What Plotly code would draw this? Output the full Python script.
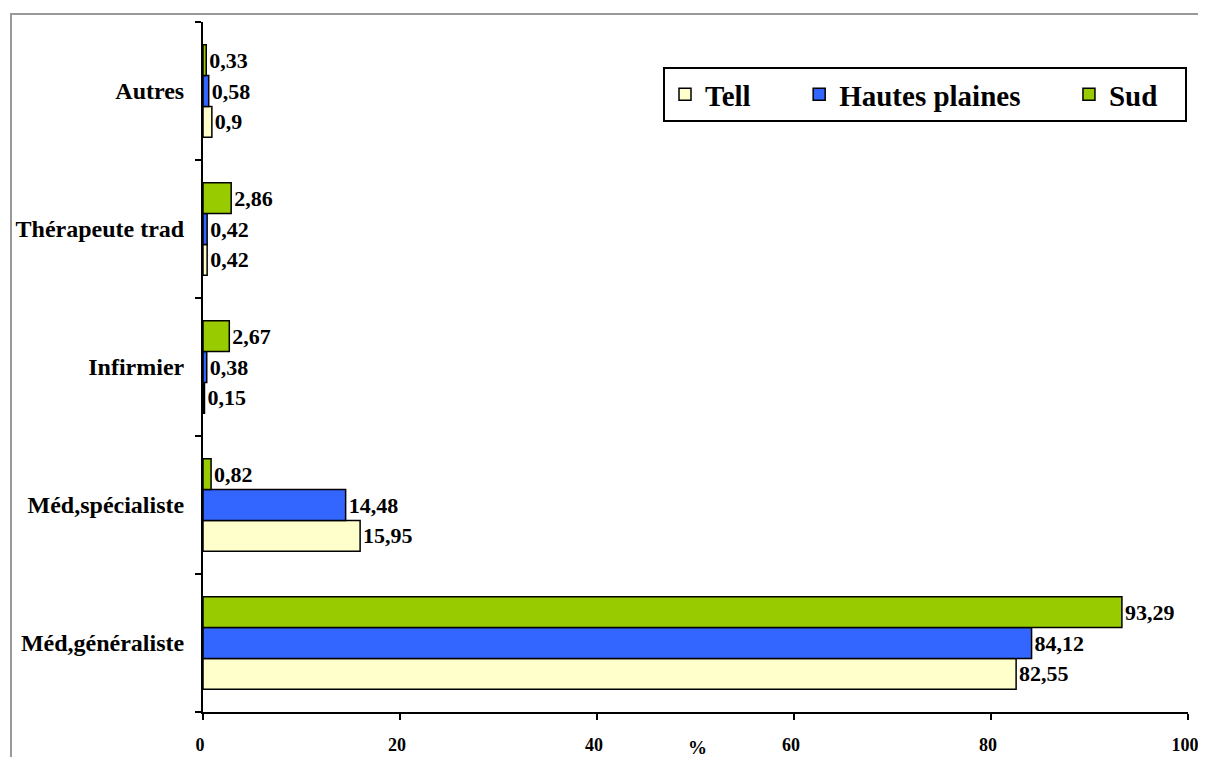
import plotly.graph_objects as go

categories = ["Méd,généraliste", "Méd,spécialiste", "Infirmier", "Thérapeute trad", "Autres"]
tell = [82.55, 15.95, 0.15, 0.42, 0.9]
hautes_plaines = [84.12, 14.48, 0.38, 0.42, 0.58]
sud = [93.29, 0.82, 2.67, 2.86, 0.33]
series_names = ["Tell", "Hautes plaines", "Sud"]
colors = ["#FFFFCC", "#3366FF", "#99CC00"]
x_ticks = [0, 20, 40, 60, 80, 100]

SERIF = "Liberation Serif, Times New Roman, serif"


def fmt(v):
    return str(v).replace(".", ",")


NB = "\u00a0"
pads = {"Tell": NB * 6, "Hautes plaines": NB * 6, "Sud": NB * 3}

fig = go.Figure()
for name, vals, col in zip(series_names, [tell, hautes_plaines, sud], colors):
    fig.add_trace(go.Bar(
        y=categories, x=vals, orientation="h", name=name + pads[name],
        marker=dict(color=col, line=dict(color="black", width=1.5)),
        text=[fmt(v) for v in vals], textposition="outside",
        textfont=dict(family=SERIF, size=22, color="black", weight="bold"),
        cliponaxis=False,
    ))

# page offset (body margin) of 8px
OFF = 8
W, H = 1190, 749
l, r, t, b = 203 - OFF, 10, 22 - OFF, 45
pw, ph = W - l - r, H - t - b


def px2x(px):
    return (px - OFF - l) / pw


def py2y(py):
    return 1 - (py - OFF - t) / ph


fig.update_layout(
    width=W, height=H,
    margin=dict(l=l, r=r, t=t, b=b, autoexpand=False),
    paper_bgcolor="white", plot_bgcolor="white",
    barmode="group", bargap=0.33, bargroupgap=0,
    showlegend=True,
    legend=dict(
        orientation="h", x=px2x(663), xanchor="left", y=py2y(67), yanchor="top",
        bordercolor="black", borderwidth=2, bgcolor="white",
        font=dict(family=SERIF, size=29, color="black", weight="bold"),
        traceorder="normal",
    ),
    xaxis=dict(
        range=[0, 100], tickvals=x_ticks, ticktext=[str(v) for v in x_ticks],
        showgrid=False, zeroline=False, automargin=False,
        showline=True, linecolor="black", linewidth=2,
        ticks="outside", ticklen=6, tickwidth=1.5, tickcolor="black",
        ticklabelstandoff=9, ticklabelshift=-3, ticklabeloverflow="allow",
        tickfont=dict(family=SERIF, size=18, color="black", weight="bold"),
    ),
    yaxis=dict(
        type="category", categoryorder="array", categoryarray=categories,
        range=[-0.5, 4.5], automargin=False,
        showgrid=False, zeroline=False,
        showline=True, linecolor="black", linewidth=2,
        ticks="outside", tickson="boundaries", ticklen=6, tickwidth=1.5, tickcolor="black",
        ticklabelstandoff=12, ticklabeloverflow="allow",
        tickfont=dict(family=SERIF, size=24, color="black", weight="bold"),
    ),
    annotations=[dict(
        text="%", xref="paper", yref="paper", x=px2x(697), y=py2y(747),
        xanchor="center", yanchor="middle", showarrow=False,
        font=dict(family=SERIF, size=19, color="black", weight="bold"),
    )],
    shapes=[dict(
        type="rect", xref="paper", yref="paper",
        x0=px2x(11), y0=py2y(800), x1=px2x(1250), y1=py2y(14),
        line=dict(color="#999999", width=2), fillcolor="rgba(0,0,0,0)", layer="below",
    )],
)

fig.write_html("out.html")
